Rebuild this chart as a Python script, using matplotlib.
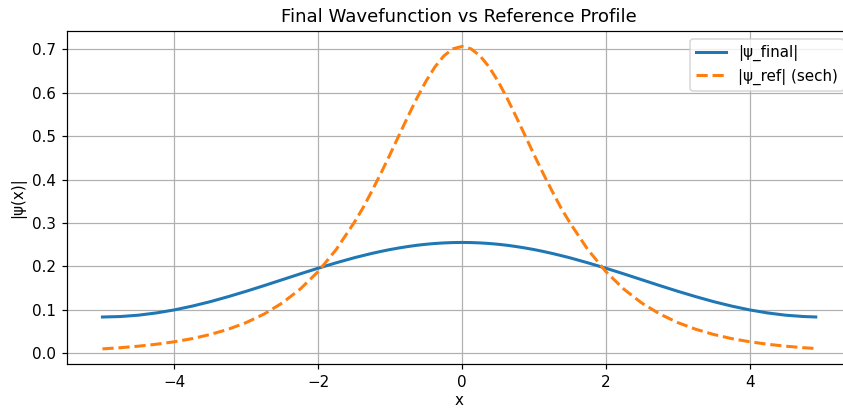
import numpy as np
import matplotlib
matplotlib.use("Agg")
import matplotlib.pyplot as plt

# values
x = [-5.0, -4.75, -4.5, -4.25, -4.0, -3.75, -3.5, -3.25, -3.0, -2.75,
     -2.5, -2.25, -2.0, -1.75, -1.5, -1.375, -1.25, -1.125, -1.0, -0.875,
     -0.75, -0.625, -0.5, -0.375, -0.25, -0.125,
     0.0, 0.125, 0.25, 0.375, 0.5, 0.625, 0.75, 0.875, 1.0, 1.125,
     1.25, 1.375, 1.5, 1.75, 2.0, 2.25,
     2.5, 2.75, 3.0, 3.25, 3.5, 3.75, 4.0, 4.25, 4.5, 4.75, 4.92]

psi_final = [0.0830, 0.0841, 0.0872, 0.0924, 0.0994, 0.1082, 0.1184, 0.1300, 0.1424, 0.1555,
             0.1690, 0.1825, 0.1956, 0.2080, 0.2196, 0.2248, 0.2298, 0.2344, 0.2386, 0.2423,
             0.2456, 0.2485, 0.2508, 0.2526, 0.2539, 0.2547,
             0.2550, 0.2547, 0.2539, 0.2526, 0.2508, 0.2485, 0.2456, 0.2423, 0.2386, 0.2344,
             0.2298, 0.2248, 0.2196, 0.2080, 0.1956, 0.1825,
             0.1690, 0.1555, 0.1424, 0.1300, 0.1184, 0.1082, 0.0994, 0.0924, 0.0872, 0.0841, 0.0831]

psi_ref = [0.0095, 0.0122, 0.0157, 0.0202, 0.0259, 0.0332, 0.0427, 0.0548, 0.0702, 0.0900,
           0.1153, 0.1474, 0.1879, 0.2385, 0.3006, 0.3352, 0.3744, 0.4153, 0.4582, 0.5023,
           0.5461, 0.5884, 0.6271, 0.6601, 0.6856, 0.7016,
           0.7071, 0.7016, 0.6856, 0.6601, 0.6271, 0.5884, 0.5461, 0.5023, 0.4582, 0.4153,
           0.3744, 0.3352, 0.3006, 0.2385, 0.1879, 0.1474,
           0.1153, 0.0900, 0.0702, 0.0548, 0.0427, 0.0332, 0.0259, 0.0202, 0.0157, 0.0122, 0.0103]

DPI = 109
fig = plt.figure(figsize=(843 / DPI, 409 / DPI), dpi=DPI)
ax = fig.add_axes([0.0792, 0.110, 0.931, 0.8135])

ax.plot(x, psi_final, lw=2, label='|ψ_final|')
ax.plot(x, psi_ref, '--', lw=2, label='|ψ_ref| (sech)')

ax.set_xlim(-5.496, 5.418)
ax.set_ylim(-0.0254, 0.742)
ax.set_title('Final Wavefunction vs Reference Profile')
ax.set_xlabel('x', labelpad=2.5)
ax.set_ylabel('|ψ(x)|')
ax.grid(True)
ax.legend(loc='upper right')

fig.savefig('out.png', dpi=DPI)
